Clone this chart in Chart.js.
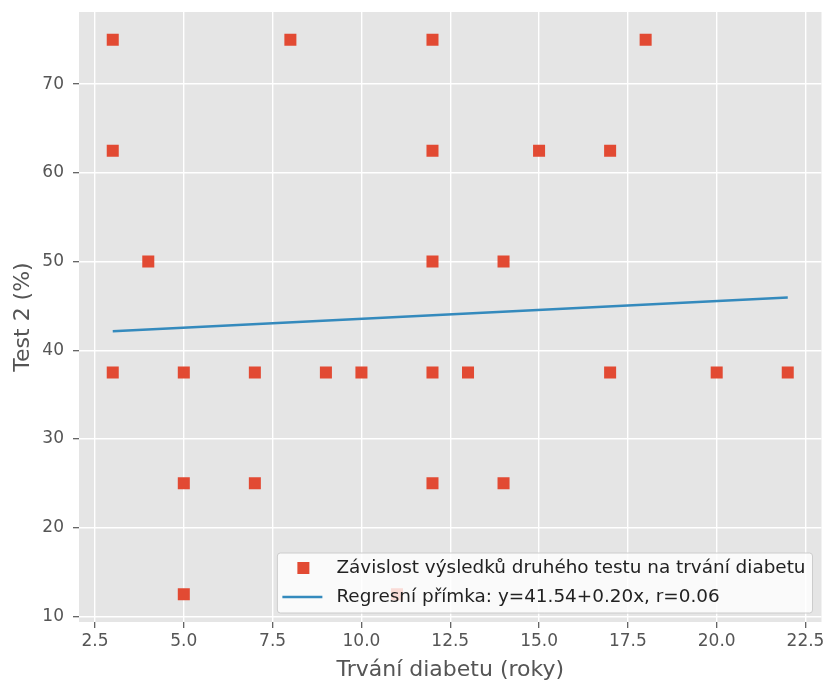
<!DOCTYPE html>
<html>
<head>
<meta charset="utf-8">
<script src="https://cdn.jsdelivr.net/npm/chart.js@4.4.0/dist/chart.umd.min.js"></script>
<style>
  html, body { margin: 0; padding: 0; background: #fff; }
  #wrap { width: 830px; height: 684px; }
</style>
</head>
<body>
<div id="wrap"><canvas id="chart" width="830" height="684"></canvas></div>
<script>
// values
const durationX = [3, 3, 3, 4, 5, 5, 5, 7, 7, 8, 9, 10, 11, 12, 12, 12, 12, 12, 13, 14, 14, 15, 17, 17, 18, 20, 22];
const test2Y = [75, 62.5, 37.5, 50, 37.5, 25, 12.5, 37.5, 25, 75, 37.5, 37.5, 12.5, 75, 62.5, 50, 37.5, 25, 37.5, 50, 25, 62.5, 62.5, 37.5, 75, 37.5, 37.5];
const regressionX = [3, 22];
const regressionY = [42.14, 45.94];
const xTicks = [2.5, 5, 7.5, 10, 12.5, 15, 17.5, 20, 22.5];
const yTicks = [10, 20, 30, 40, 50, 60, 70];
const pointLabel = 'Závislost výsledků druhého testu na trvání diabetu';
const lineLabel = 'Regresní přímka: y=41.54+0.20x, r=0.06';

const RED = '#E24A33';
const BLUE = '#348ABD';
const FONT = 'DejaVu Sans';

const plotBackground = {
  id: 'plotBackground',
  beforeDraw(chart) {
    const { ctx, chartArea: a } = chart;
    ctx.save();
    ctx.fillStyle = '#E5E5E5';
    ctx.fillRect(a.left, a.top, a.right - a.left, a.bottom - a.top);
    ctx.restore();
  }
};

// matplotlib-like legend inside the axes, lower right
const insideLegend = {
  id: 'insideLegend',
  afterDraw(chart) {
    const { ctx, chartArea: a } = chart;
    ctx.save();
    ctx.font = '18.4px "' + FONT + '"';
    const textW = Math.max(ctx.measureText(pointLabel).width, ctx.measureText(lineLabel).width);
    const w = 59 + textW + 7;
    const h = 60;
    const x0 = a.right - 9 - w;
    const y0 = a.bottom - 9 - h;

    ctx.beginPath();
    ctx.roundRect(x0, y0, w, h, 3);
    ctx.fillStyle = 'rgba(255,255,255,0.8)';
    ctx.fill();
    ctx.strokeStyle = '#CCCCCC';
    ctx.lineWidth = 1;
    ctx.stroke();

    const row1 = y0 + 15;
    const row2 = y0 + 44;
    ctx.fillStyle = RED;
    ctx.fillRect(x0 + 20, row1 - 6, 12, 12);
    ctx.strokeStyle = BLUE;
    ctx.lineWidth = 2.5;
    ctx.beginPath();
    ctx.moveTo(x0 + 5, row2);
    ctx.lineTo(x0 + 45, row2);
    ctx.stroke();

    ctx.fillStyle = '#222222';
    ctx.textBaseline = 'middle';
    ctx.fillText(pointLabel, x0 + 59, row1);
    ctx.fillText(lineLabel, x0 + 59, row2);
    ctx.restore();
  }
};

new Chart(document.getElementById('chart'), {
  type: 'scatter',
  data: {
    datasets: [{
      label: pointLabel,
      data: durationX.map((x, i) => ({ x: x, y: test2Y[i] })),
      pointStyle: 'rect',
      pointRadius: 8.5,
      pointBackgroundColor: RED,
      pointBorderWidth: 0,
      order: 2
    }, {
      label: lineLabel,
      data: regressionX.map((x, i) => ({ x: x, y: regressionY[i] })),
      showLine: true,
      borderColor: BLUE,
      borderWidth: 2.5,
      pointRadius: 0,
      order: 1
    }]
  },
  options: {
    responsive: false,
    animation: false,
    devicePixelRatio: 1,
    layout: { padding: { top: 12, right: 7, left: 0, bottom: 0 } },
    plugins: {
      legend: { display: false },
      tooltip: { enabled: false }
    },
    scales: {
      x: {
        type: 'linear',
        min: 2.05,
        max: 22.95,
        afterBuildTicks: s => { s.ticks = xTicks.map(v => ({ value: v })); },
        afterFit: s => { s.height = 62; s.paddingLeft = 0; s.paddingRight = 0; },
        border: { display: false },
        grid: { color: '#FFFFFF', lineWidth: 1.4, tickColor: '#555555', tickLength: 6, tickWidth: 1.2 },
        ticks: {
          color: '#555555',
          font: { family: FONT, size: 17 },
          padding: 3,
          maxRotation: 0,
          callback: v => v.toFixed(1)
        },
        title: {
          display: true,
          text: 'Trvání diabetu (roky)',
          color: '#555555',
          font: { family: FONT, size: 22 },
          padding: { top: 0, bottom: 1 }
        }
      },
      y: {
        type: 'linear',
        min: 9.375,
        max: 78.125,
        afterBuildTicks: s => { s.ticks = yTicks.map(v => ({ value: v })); },
        afterFit: s => { s.width = 79; s.paddingTop = 0; s.paddingBottom = 0; },
        border: { display: false },
        grid: { color: '#FFFFFF', lineWidth: 1.4, tickColor: '#555555', tickLength: 6, tickWidth: 1.2 },
        ticks: {
          color: '#555555',
          font: { family: FONT, size: 17 },
          padding: 9
        },
        title: {
          display: true,
          text: 'Test 2 (%)',
          color: '#555555',
          font: { family: FONT, size: 22 },
          padding: { top: 10, bottom: 0 }
        }
      }
    }
  },
  plugins: [plotBackground, insideLegend]
});
</script>
</body>
</html>
